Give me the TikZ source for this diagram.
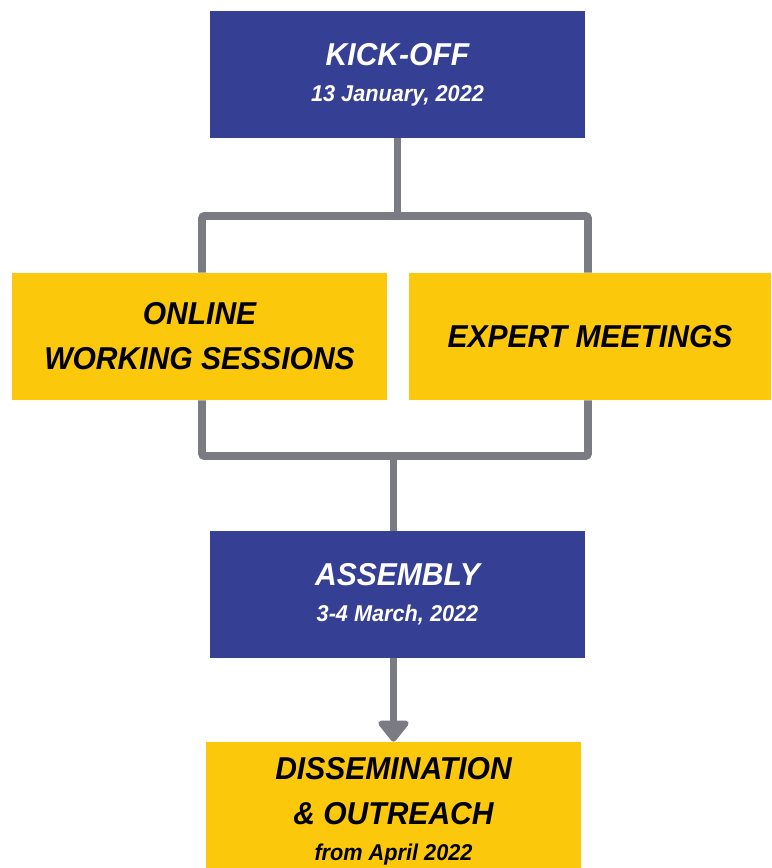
\documentclass[tikz,border=0pt]{standalone}
\usepackage{fontspec}
\setmainfont{Liberation Sans}[FakeStretch=0.95]
\usepackage{tikz}
\usetikzlibrary{arrows.meta}
\definecolor{eventblue}{RGB}{53,63,148}
\definecolor{phaseyellow}{RGB}{252,200,12}
\definecolor{linkgrey}{RGB}{123,123,131}
\newcommand{\bigline}{\fontsize{18}{25.5}\selectfont\bfseries\itshape}
\newcommand{\smallline}{\fontsize{13}{18}\selectfont\bfseries\itshape}

\begin{document}
\begin{tikzpicture}[x=0.02cm, y=-0.02cm,
				event/.style={rectangle, fill=eventblue, text=white, align=center, font=\bigline,
					minimum width=7.5cm, minimum height=2.54cm, inner sep=0pt},
				phase/.style={rectangle, fill=phaseyellow, text=black, align=center, font=\bigline,
					minimum height=2.54cm, inner sep=0pt},
				link/.style={draw=linkgrey, line width=4.5pt, rounded corners=1.5pt}]
	\useasboundingbox (0,0) rectangle (771,868);
	\node[event] (K) at (397.5,74.5) {KICK-OFF\\[-5pt] {\smallline 13 January, 2022}};
	\node[phase, minimum width=7.5cm] (O) at (199.5,336.5) {ONLINE\\ WORKING SESSIONS};
	\node[phase, minimum width=7.24cm] (E) at (590,336.5) {EXPERT MEETINGS};
	\node[event] (A) at (397.5,594.5) {ASSEMBLY\\[-5pt] {\smallline 3-4 March, 2022}};
	\node[phase, minimum width=7.5cm, minimum height=2.76cm] (D) at (393.5,811) {DISSEMINATION\\ \&~OUTREACH\\[-5pt] {\smallline from April 2022}};
	\coordinate (split) at (397.5,216);
	\coordinate (join) at (393.5,456);
	\draw[link] (K.south -| split) -- (split);
	\draw[link] (O.north -| 202,0) |- (split) -| (E.north -| 588,0);
	\draw[link] (O.south -| 202,0) |- (join) -| (E.south -| 588,0);
	\draw[link] (join) -- (A.north -| join);
	\draw[link, -{Triangle[width=0.7cm, length=0.46cm, round]}] (A.south -| D) -- (D.north);
\end{tikzpicture}
\end{document}
